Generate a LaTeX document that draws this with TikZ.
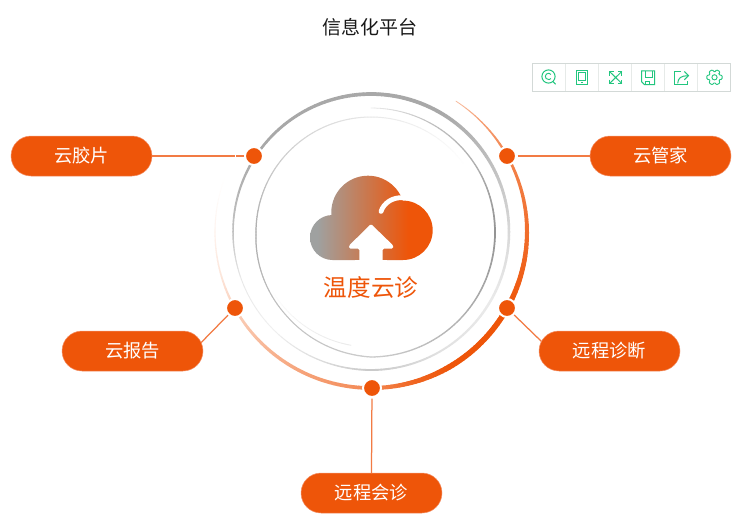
\documentclass[tikz,border=0pt]{standalone}
\usepackage{fontspec}
\setmainfont{Noto Sans CJK SC}
\usetikzlibrary{shapes.misc}
\definecolor{brand}{HTML}{EE5509}
\definecolor{linkc}{HTML}{F27B44}
\definecolor{pilledge}{HTML}{F4926A}
\definecolor{iconc}{HTML}{22C67F}
\definecolor{toolb}{HTML}{D3D9D7}
\definecolor{tools}{HTML}{E6EAE8}
\definecolor{cloudg}{HTML}{9FA1A0}
\pgfdeclarehorizontalshading{cloudgrad}{100bp}{color(0bp)=(cloudg); color(28bp)=(cloudg); color(65bp)=(brand); color(100bp)=(brand)}
\newcommand{\ringstops}[4]{%
  \foreach \aa/\pp/\ww/\rr [remember=\aa as \la (initially 0), remember=\pp as \lp (initially 0), remember=\ww as \lw (initially 0), remember=\rr as \lr (initially 0), count=\cc] in {#4}{%
    \ifnum\cc>1
      \pgfmathtruncatemacro\nn{max(1,abs(\aa-\la)/1.5)}%
      \foreach \ii in {1,...,\nn}{%
        \pgfmathsetmacro\fa{(\ii-1)/\nn}%
        \pgfmathsetmacro\fb{\ii/\nn}%
        \pgfmathsetmacro\fm{(\ii-0.5)/\nn}%
        \pgfmathsetmacro\asa{\la+(\aa-\la)*\fa}%
        \pgfmathsetmacro\asb{\la+(\aa-\la)*\fb}%
        \pgfmathsetmacro\rsa{\lr+(\rr-\lr)*\fa}%
        \pgfmathsetmacro\rsb{\lr+(\rr-\lr)*\fb}%
        \pgfmathsetmacro\pc{\lp+(\pp-\lp)*\fm}%
        \pgfmathsetmacro\wc{1.25*(\lw+(\ww-\lw)*\fm)}%
        \draw[color=#1!\pc!white, line width=\wc pt, line cap=round]
          ({#2+\rsa*cos(\asa)},{#3-\rsa*sin(\asa)}) -- ({#2+\rsb*cos(\asb)},{#3-\rsb*sin(\asb)});
      }%
    \fi
  }%
}
\tikzset{
  pill/.style={rounded rectangle, minimum width=141pt, minimum height=40pt, inner sep=0pt, outer sep=0pt,
    fill=brand, draw=pilledge, line width=0.5pt, text=white, font=\fontsize{18.3}{18.3}\selectfont},
  hub/.style={circle, minimum size=18pt, inner sep=0pt, outer sep=0pt, fill=brand, draw=white, line width=2pt},
  link/.style={draw=linkc, line width=1.25pt},
  icon/.style={draw=iconc, line width=1pt},
  toolframe/.style={draw=toolb, line width=1pt},
  toolsep/.style={draw=tools, line width=1pt}
}
\begin{document}
\begin{tikzpicture}[x=1pt,y=-1pt]
\useasboundingbox (0,0) rectangle (747,523);
\fill[white] (0,0) rectangle (747,523);
\node[font=\fontsize{19}{19}\selectfont, text=black!90] (title) at (370,27) {信息化平台};

% rings
\ringstops{black}{371}{232}{90/34/3/138, 147/34/2/138, 180/24/1.2/138, 200/9/0.7/138, 225/6/0.7/138, 250/14/1/138, 270/21/1.5/138, 300/12/1.5/138, 330/8/2/138, 360/15/2/138, 390/25/2.5/138, 420/34/3/138, 450/34/3/138}
\ringstops{black}{371}{232}{90/8/0.6/124, 60/25/0.9/124, 30/32/1.1/124, 0/42/1.4/124, -45/30/1.1/124.5, -90/20/1/125, -135/24/0.8/119, -180/32/1/115, -215/20/0.9/115, -270/9/0.8/115, -300/5/0.7/115, -325/0/0.5/115}
\ringstops{black}{371}{232}{-100/8/0.7/115, -125/6/0.6/115, -150/0/0.5/115}
\ringstops{brand}{371}{232}{57/38/0.6/156, 45/55/1/156, 30/72/2/156, 0/85/3.2/156, -30/100/4.4/156, -60/100/4.4/156, -75/90/3.6/156, -90/70/3/156, -110/58/2.8/156, -130/45/2.6/156, -150/28/2/156, -165/14/1.2/156, -180/7/0.9/156, -200/0/0.4/156}

% hubs and pills
\node[hub] (hubA) at (254,156) {};
\node[hub] (hubB) at (507,156) {};
\node[hub] (hubC) at (235,308) {};
\node[hub] (hubD) at (507,308) {};
\node[hub] (hubE) at (372,388) {};
\node[pill] (pillA) at (81.5,156) {云胶片};
\node[pill] (pillB) at (660.5,156) {云管家};
\node[pill] (pillC) at (132.5,351) {云报告};
\node[pill] (pillD) at (609.5,351) {远程诊断};
\node[pill] (pillE) at (371.5,493) {远程会诊};
\draw[link, shorten <=1pt] (hubA) -- (pillA.east);
\draw[link, shorten <=1.5pt] (hubB) -- (pillB.west);
\draw[link, shorten <=1pt] (hubC) -- (pillC.7);
\draw[link, shorten <=1pt] (hubD) -- (pillD.172.6);
\draw[link, shorten <=1.5pt] (hubE) -- (pillE.north);
\draw[white, line width=0.8pt] (235,155) -- (235,157.5);

% cloud
\shade[shading=cloudgrad]
  (332.5,237.5) circle[radius=22.5]
  (368,212.4) circle[radius=36.7]
  (403,230.3) circle[radius=29.7]
  (332.5,260) -- (332.5,212) -- (403,212) -- (403,260) -- cycle;
\draw[white, line width=4.8pt, line cap=round] (381,211.5) .. controls (383.5,203.5) and (392,197) .. (403,197.7) -- (414,198);
\fill[white, rounded corners=1.4pt] (359.3,262) -- (359.3,248.5) -- (349,248.5) -- (349,245.6) -- (371,224) -- (393.3,245.6) -- (393.3,248.5) -- (382.7,248.5) -- (382.7,262) -- cycle;
\fill[white] (355,260) rectangle (387,264);
\node[font=\fontsize{23.6}{23.6}\selectfont, text=brand] (brandname) at (371,288) {温度云诊};

% toolbox
\draw[toolframe] (532.3,63.3) rectangle (730.7,91);
\foreach \sx in {565.3,598.3,631.3,664.3,697.3} \draw[toolsep] (\sx,63.8) -- (\sx,90.5);
% restore
\draw[icon] (548.5,76.5) circle[radius=6.6];
\draw[icon, line width=0.9pt] (551,74.4) arc[start angle=-40, end angle=-320, radius=3.2];
\draw[icon] (552.8,81.5) -- (555.6,84.3);
% data view
\draw[icon] (576,70.3) rectangle (587.7,84.3);
\draw[icon, line width=0.8pt] (578.3,72.3) rectangle (585.7,80.3);
\draw[icon, line width=0.8pt] (580.8,82.3) -- (583,82.3);
% zoom
\draw[icon] (609.5,71.5) -- (621.8,83.5) (621.8,71.5) -- (609.5,83.5);
\draw[icon] (609.5,75.5) -- (609.5,71.5) -- (613.5,71.5) (617.8,71.5) -- (621.8,71.5) -- (621.8,75.5)
  (609.5,79.5) -- (609.5,83.5) -- (613.5,83.5) (617.8,83.5) -- (621.8,83.5) -- (621.8,79.5);
% save
\draw[icon] (641.5,70.8) -- (654.7,70.8) -- (654.7,84.7) -- (644.5,84.7) -- (641.5,81.7) -- cycle;
\draw[icon, line width=0.8pt] (645,70.8) -- (645,77.5) -- (652,77.5) -- (652,70.8);
\draw[icon, line width=0.8pt] (645.8,84.7) -- (645.8,81) -- (649.8,81) -- (649.8,84.7);
% share
\draw[icon] (681,71) -- (674.3,71) -- (674.3,84.3) -- (687.7,84.3) -- (687.7,80.5);
\draw[icon] (677.7,83.3) .. controls (678,78) and (681,75.7) .. (688,75.7);
\draw[icon] (684.3,71.5) -- (688.5,75.7) -- (684.3,79.8);
% settings
\draw[icon, rounded corners=0.7pt, line width=0.9pt] ({714.5+5.2*cos(-30)},{77.3+5.2*sin(-30)})
  \foreach \ga in {0,60,...,300} {
    -- ({714.5+7.8*cos(\ga-13)},{77.3+7.8*sin(\ga-13)})
    -- ({714.5+7.8*cos(\ga+13)},{77.3+7.8*sin(\ga+13)})
    -- ({714.5+5.2*cos(\ga+30)},{77.3+5.2*sin(\ga+30)})
  } -- cycle;
\draw[icon, line width=0.9pt] (714.5,77.3) circle[radius=2.6];
\end{tikzpicture}
\end{document}
